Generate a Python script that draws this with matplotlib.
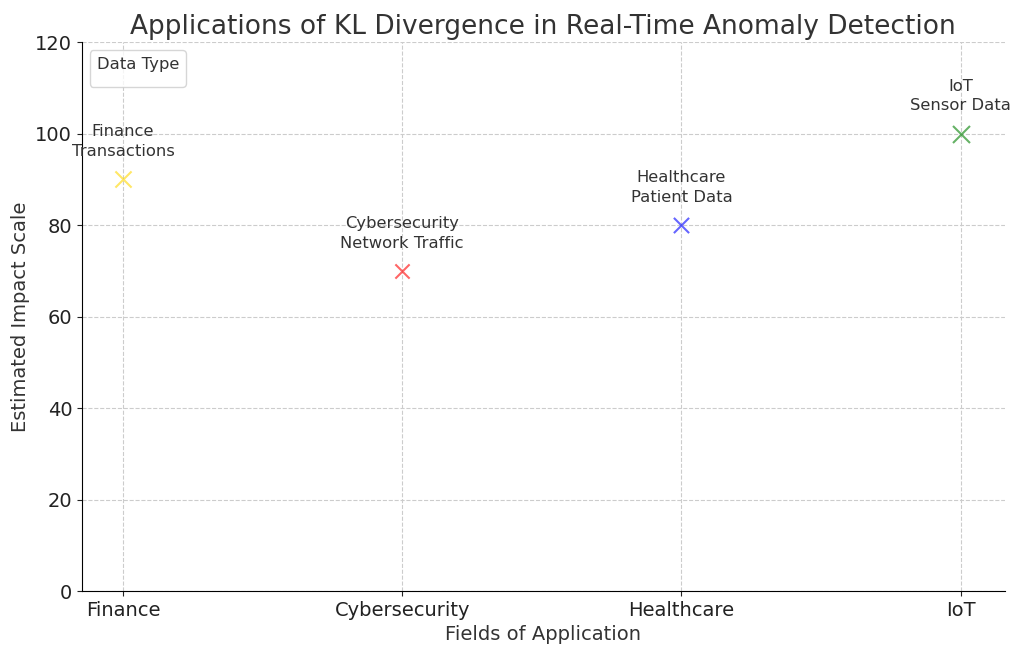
import matplotlib
matplotlib.use("Agg")
import matplotlib.pyplot as plt

fields = ["Finance", "Cybersecurity", "Healthcare", "IoT"]
impact = [90, 70, 80, 100]
labels = ["Finance\nTransactions", "Cybersecurity\nNetwork Traffic",
          "Healthcare\nPatient Data", "IoT\nSensor Data"]
colors = ["gold", "red", "blue", "green"]

plt.rcParams['font.family'] = ['DejaVu Sans']
text_color = "#333333"

fig = plt.figure(figsize=(10.24, 6.55), dpi=100)
ax = fig.add_axes([0.080, 0.0977, 0.901, 0.838])

xs = list(range(len(fields)))
for x, v, c in zip(xs, impact, colors):
    ax.scatter(x, v, s=v * 1.5, marker='x', color=c, alpha=0.6, linewidths=1.5, zorder=3)

for x, v, lab in zip(xs, impact, labels):
    ax.annotate(lab, (x, v), textcoords="offset points", xytext=(0, 14.5),
                ha='center', va='bottom', fontsize=11.8, color=text_color,
                linespacing=1.4)

ax.set_xticks(xs)
ax.set_xticklabels(fields)
ax.set_xlim(-0.147, 3.157)
ax.set_ylim(0, 120)
ax.set_yticks(range(0, 121, 20))
ax.tick_params(labelsize=14, colors="#222222")
ax.set_xlabel("Fields of Application", fontsize=14, color=text_color)
ax.set_ylabel("Estimated Impact Scale", fontsize=14, color=text_color)
ax.set_title("Applications of KL Divergence in Real-Time Anomaly Detection",
             fontsize=19, color=text_color)
ax.grid(True, linestyle='--', color='#cccccc', linewidth=0.8)
ax.set_axisbelow(True)
for s in ["top", "right"]:
    ax.spines[s].set_visible(False)

leg = ax.legend(handles=[], title="Data Type", loc="upper left", fontsize=11.8,
                title_fontsize=11.8)
leg.get_title().set_color(text_color)

fig.savefig("out.png", dpi=100)
